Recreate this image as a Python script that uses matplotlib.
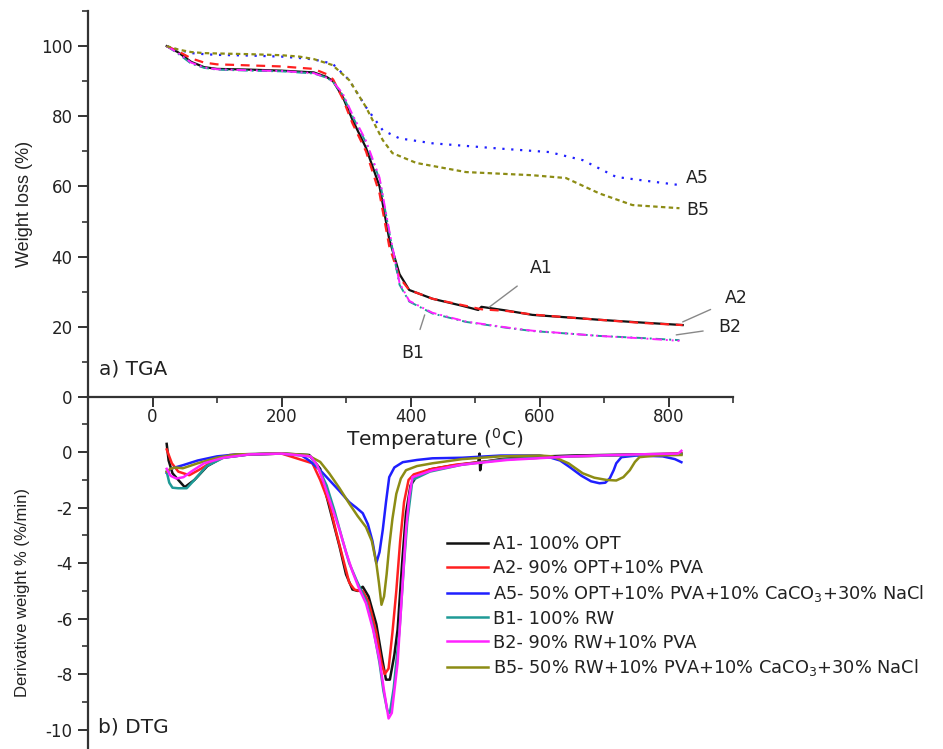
import numpy as np
import matplotlib
matplotlib.use('Agg')
import matplotlib.pyplot as plt
from matplotlib.ticker import MultipleLocator

plt.rcParams['font.family'] = ['DejaVu Sans']
plt.rcParams['mathtext.default'] = 'regular'
plt.rcParams['axes.unicode_minus'] = False

# ---- TGA data (temperature in C, weight %) ----
t_a1 = [22, 40, 60, 80, 100, 150, 200, 250, 270, 280, 295, 310, 331, 352, 367, 383, 398, 434, 480, 505, 510, 550, 589, 650, 693, 760, 822]
w_a1 = [100, 98.2, 95.5, 94, 93.5, 93.3, 93, 92.5, 91.2, 90, 85.5, 79, 71, 60, 45, 35, 30.5, 28, 26, 24.8, 25.7, 24.6, 23.4, 22.6, 22, 21.2, 20.5]
w_a2 = [100, 98.5, 96.5, 95.3, 94.8, 94.5, 94.2, 93.5, 92, 90.5, 85, 78, 70, 58, 43, 34, 30.5, 28, 26.2, 25.2, 25, 24.5, 23.5, 22.6, 22, 21.1, 20.5]

t_b = [22, 40, 60, 80, 100, 150, 200, 250, 270, 280, 295, 310, 331, 352, 367, 383, 398, 434, 486, 550, 589, 650, 693, 760, 817]
w_b1 = [100, 97.8, 95, 93.8, 93.3, 93, 92.8, 92.2, 91, 89.8, 86, 80, 72.5, 62, 47, 32, 27.2, 23.8, 21.4, 19.7, 18.8, 18, 17.4, 16.8, 16.2]
w_b2 = [100, 98, 95.3, 93.9, 93.4, 93.1, 92.9, 92.3, 91, 89.8, 86.5, 80.5, 73, 62.5, 47.5, 32.5, 27.4, 24, 21.5, 19.8, 18.9, 18, 17.4, 16.7, 16.0]

t_a5 = [22, 40, 60, 80, 100, 150, 200, 228, 250, 279, 305, 331, 357, 383, 434, 538, 615, 667, 719, 770, 817]
w_a5 = [100, 99, 98, 97.7, 97.5, 97.3, 97, 96.6, 96.2, 95, 90.3, 82.6, 76, 73.7, 72.3, 70.8, 69.8, 67.5, 62.7, 61.5, 60.4]

t_b5 = [22, 40, 60, 80, 100, 150, 200, 228, 250, 279, 305, 331, 357, 372, 409, 486, 589, 641, 693, 744, 817]
w_b5 = [100, 99, 98.3, 98, 97.9, 97.7, 97.4, 97, 96.3, 94.6, 90.3, 82.6, 73.2, 69.5, 66.7, 64.1, 63.2, 62.4, 58, 54.7, 53.8]

# ---- DTG data (temperature in C, %/min) ----
dt_a1 = [22, 25, 31, 40, 50, 65, 85, 108, 150, 200, 243, 260, 270, 280, 290, 300, 310, 318, 326, 335, 347, 355, 362, 368, 375, 380, 387, 393, 400, 410, 430, 460, 505, 507, 508, 510, 540, 574, 650, 750, 820]
d_a1 = [0.3, -0.3, -0.76, -1.0, -1.26, -1.0, -0.5, -0.2, -0.08, -0.05, -0.1, -0.6, -1.6, -2.5, -3.4, -4.4, -4.95, -5.0, -4.85, -5.2, -6.2, -7.3, -8.2, -8.2, -7.3, -6.4, -4.0, -2.2, -1.2, -0.85, -0.62, -0.5, -0.36, -0.05, -0.65, -0.36, -0.25, -0.18, -0.12, -0.08, -0.05]

dt_a2 = [22, 30, 40, 57, 75, 95, 120, 200, 248, 260, 274, 285, 295, 305, 313, 320, 326, 335, 347, 355, 360, 366, 372, 378, 384, 390, 397, 405, 430, 470, 550, 650, 750, 820]
d_a2 = [0.1, -0.4, -0.7, -0.83, -0.6, -0.3, -0.1, -0.05, -0.4, -1.0, -1.85, -2.9, -3.8, -4.7, -4.95, -5.0, -5.0, -5.4, -6.5, -7.6, -8.0, -7.8, -6.5, -5.0, -3.2, -1.8, -1.0, -0.8, -0.62, -0.45, -0.25, -0.15, -0.1, -0.05]

dt_a5 = [22, 28, 35, 47, 70, 100, 130, 200, 230, 243, 260, 274, 290, 305, 316, 326, 334, 341, 347, 352, 357, 362, 367, 375, 388, 410, 434, 480, 540, 600, 615, 632, 647, 665, 680, 693, 702, 709, 715, 719, 727, 750, 791, 810, 820]
d_a5 = [-0.75, -0.6, -0.55, -0.47, -0.3, -0.15, -0.08, -0.05, -0.1, -0.3, -0.65, -1.0, -1.4, -1.8, -2.0, -2.2, -2.6, -3.2, -4.0, -3.6, -2.8, -1.8, -0.9, -0.55, -0.36, -0.28, -0.22, -0.2, -0.12, -0.12, -0.18, -0.3, -0.54, -0.85, -1.05, -1.12, -1.1, -0.94, -0.65, -0.4, -0.18, -0.12, -0.15, -0.25, -0.36]

dt_b1 = [22, 26, 31, 40, 53, 65, 84, 110, 150, 200, 245, 258, 270, 282, 295, 305, 316, 331, 342, 352, 358, 364, 368, 374, 383, 390, 395, 403, 430, 480, 550, 650, 750, 820]
d_b1 = [-0.7, -1.1, -1.28, -1.3, -1.3, -1.0, -0.5, -0.2, -0.08, -0.05, -0.15, -0.6, -1.2, -2.1, -3.2, -4.0, -4.6, -5.35, -6.3, -7.6, -8.6, -9.3, -9.4, -8.5, -6.4, -4.0, -2.5, -1.0, -0.7, -0.45, -0.25, -0.15, -0.1, -0.08]

dt_b2 = [22, 28, 37, 48, 60, 80, 110, 150, 200, 245, 255, 264, 277, 290, 300, 310, 320, 331, 342, 352, 359, 366, 371, 380, 387, 393, 398, 403, 434, 480, 550, 650, 750, 815, 820]
d_b2 = [-0.6, -0.85, -0.95, -0.9, -0.7, -0.4, -0.2, -0.08, -0.05, -0.15, -0.45, -1.0, -1.9, -2.8, -3.6, -4.3, -4.9, -5.45, -6.4, -7.5, -8.6, -9.6, -9.4, -7.6, -5.0, -2.8, -1.6, -0.9, -0.65, -0.45, -0.28, -0.15, -0.08, -0.05, 0.05]

dt_b5 = [22, 28, 35, 47, 70, 100, 130, 200, 240, 260, 274, 290, 305, 318, 331, 340, 347, 351, 355, 359, 363, 367, 372, 378, 385, 393, 410, 434, 480, 540, 600, 620, 645, 667, 685, 704, 719, 730, 740, 748, 755, 780, 820]
d_b5 = [-0.7, -0.6, -0.55, -0.58, -0.4, -0.2, -0.08, -0.04, -0.1, -0.35, -0.76, -1.3, -1.85, -2.3, -2.7, -3.2, -4.0, -4.7, -5.5, -5.2, -4.4, -3.4, -2.4, -1.5, -0.95, -0.65, -0.5, -0.4, -0.25, -0.15, -0.12, -0.15, -0.4, -0.76, -0.92, -1.0, -1.02, -0.9, -0.65, -0.35, -0.18, -0.12, -0.1]

labels = ['A1- 100% OPT', 'A2- 90% OPT+10% PVA',
          'A5- 50% OPT+10% PVA+10% CaCO$_3$+30% NaCl',
          'B1- 100% RW', 'B2- 90% RW+10% PVA',
          'B5- 50% RW+10% PVA+10% CaCO$_3$+30% NaCl']
colors = ['#111111', '#ff2020', '#1f1fff', '#1f9a96', '#ff22ff', '#8c8c14']
txt = '#222222'

fig = plt.figure(figsize=(9.43, 7.49), dpi=100)
W, H = 943.0, 749.0
ax1 = fig.add_axes([88 / W, (H - 397) / H, 645 / W, 386 / H])
ax2 = fig.add_axes([88 / W, 0, 645 / W, 352 / H])
ax2.set_facecolor('none')

# TGA
ax1.plot(t_a1, w_a1, color=colors[0], lw=1.6)
ax1.plot(t_a1, w_a2, color=colors[1], lw=1.6, ls=(0, (4, 3)))
ax1.plot(t_a5, w_a5, color=colors[2], lw=1.6, ls=(0, (1, 3)))
ax1.plot(t_b, w_b1, color=colors[3], lw=1.4, ls=(0, (5, 2, 1, 2)))
ax1.plot(t_b, w_b2, color=colors[4], lw=1.4, ls=(0, (5, 2, 1, 2, 1, 2)))
ax1.plot(t_b5, w_b5, color=colors[5], lw=1.6, ls=(0, (2, 1.5)))

ax1.set_xlim(-100, 900)
ax1.set_ylim(0, 110)
ax1.xaxis.set_major_locator(MultipleLocator(200))
ax1.xaxis.set_minor_locator(MultipleLocator(100))
ax1.yaxis.set_minor_locator(MultipleLocator(10))
ax1.set_yticks([0, 20, 40, 60, 80, 100])
for s in ['top', 'right']:
    ax1.spines[s].set_visible(False)
ax1.set_ylabel('Weight loss (%)', fontsize=13, color=txt, labelpad=6,
               family=['Liberation Sans'])
ax1.text(-83, 8, 'a) TGA', fontsize=14.5, color=txt, va='center')

ann = dict(color='#888888', lw=1.0)
ax1.annotate('A1', xy=(522, 25.6), xytext=(603, 36.8), fontsize=12.5, color=txt,
             ha='center', va='center', arrowprops=dict(arrowstyle='-', shrinkA=9, shrinkB=0, **ann))
ax1.annotate('B1', xy=(422, 23.4), xytext=(403, 12.5), fontsize=12.5, color=txt,
             ha='center', va='center', arrowprops=dict(arrowstyle='-', shrinkA=9, shrinkB=0, **ann))
ax1.annotate('A2', xy=(822, 21.4), xytext=(905, 28.2), fontsize=12.5, color=txt,
             ha='center', va='center', annotation_clip=False,
             arrowprops=dict(arrowstyle='-', shrinkA=9, shrinkB=0, **ann))
ax1.annotate('B2', xy=(812, 17.7), xytext=(895, 19.9), fontsize=12.5, color=txt,
             ha='center', va='center', annotation_clip=False,
             arrowprops=dict(arrowstyle='-', shrinkA=9, shrinkB=0, **ann))
ax1.text(845, 62.4, 'A5', fontsize=12.5, color=txt, ha='center', va='center')
ax1.text(845, 53.3, 'B5', fontsize=12.5, color=txt, ha='center', va='center')

fig.text(435 / W, (H - 439) / H, 'Temperature ($^{0}$C)', fontsize=14.5, color=txt,
         ha='center', va='center')

# DTG
dtg = [(dt_a1, d_a1), (dt_a2, d_a2), (dt_a5, d_a5), (dt_b1, d_b1), (dt_b2, d_b2), (dt_b5, d_b5)]
order = [0, 1, 2, 3, 5, 4]
lines = {}
for i in order:
    x, y = dtg[i]
    lines[i], = ax2.plot(x, y, color=colors[i], lw=1.8)

ax2.set_xlim(-100, 900)
ax2.set_ylim(-10.7, 1.99)
ax2.set_yticks([0, -2, -4, -6, -8, -10])
ax2.yaxis.set_minor_locator(MultipleLocator(1))
for s in ['top', 'right', 'bottom']:
    ax2.spines[s].set_visible(False)
ax2.set_xticks([])
ax2.set_ylabel('Derivative weight % (%/min)', fontsize=12, color=txt,
               family=['Liberation Sans Narrow', 'Liberation Sans'])
ax2.yaxis.set_label_coords(-0.09, 0.445)
ax2.text(-85, -9.9, 'b) DTG', fontsize=14.5, color=txt, va='center')

ax2.legend([lines[i] for i in range(6)], labels, loc='upper left',
           bbox_to_anchor=(0.545, 0.628), frameon=False, fontsize=12.8,
           handlelength=2.3, handletextpad=0.28, labelspacing=0.33,
           borderaxespad=0, labelcolor=txt)

for ax in (ax1, ax2):
    for s in ax.spines.values():
        s.set_linewidth(1.6)
        s.set_color('#333333')
    ax.tick_params(which='major', direction='out', length=7, width=1.4,
                   labelsize=12, colors='#333333', labelcolor=txt, pad=4)
    ax.tick_params(which='minor', direction='out', length=4, width=1.2, colors='#333333')
ax1.tick_params(axis='x', which='major', pad=1)
ax2.tick_params(axis='x', which='both', length=0)

fig.savefig('out.png', dpi=100)
